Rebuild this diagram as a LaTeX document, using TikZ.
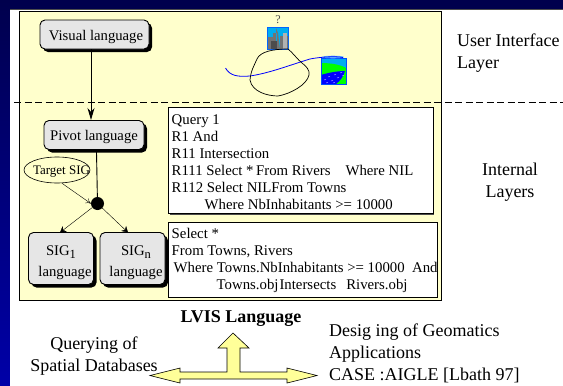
\documentclass[tikz,border=0pt]{standalone}
\usepackage{fontspec}
\setmainfont{Liberation Serif}
\usetikzlibrary{arrows.meta,shadows,shapes.geometric}
\definecolor{panelyellow}{HTML}{FFFFCC}
\definecolor{boxgrey}{HTML}{E6E6E6}
\definecolor{navytop}{HTML}{00004D}
\definecolor{navylow}{HTML}{0000A8}
\definecolor{arrowyellow}{HTML}{FFFF99}
\tikzset{
  langbox/.style={draw, line width=.9pt, fill=boxgrey, rounded corners=5pt, inner sep=0pt, drop shadow={shadow xshift=3pt, shadow yshift=-3pt, fill=black, opacity=1}},
  langtext/.style={align=center, inner sep=0pt, font=\fontsize{14.7}{21}\selectfont},
  querybox/.style={draw=black, fill=white, line width=1pt, inner sep=0pt},
  querytext/.style={anchor=north west, align=left, inner sep=0pt, font=\fontsize{14.8}{17}\selectfont},
  layertext/.style={align=left, inner sep=0pt, font=\fontsize{18}{22}\selectfont},
}
\newcommand{\sigsub}[1]{\raisebox{-3pt}{\fontsize{12.5}{14}\selectfont #1}}
\begin{document}
\begin{tikzpicture}[x=1pt, y=-1pt]
\useasboundingbox (0,0) rectangle (563,386);
% background
\fill[navytop] (0,0) rectangle (563,10);
\shade[top color=navytop, bottom color=navylow] (0,0) rectangle (10,386);
\fill[white] (10,10) rectangle (563,386);
\draw[black!70, very thin] (10,9.5) -- (563,9.5);
\fill[black!50] (20,12) rectangle (442,301);
\draw[black, fill=panelyellow, semithick] (19.5,11) rectangle (441,300);

% layers
\draw[dashed, dash pattern=on 7pt off 3.5pt, line width=.8pt] (14,102) -- (563,102);

% language nodes
\node[langbox, minimum width=109pt, minimum height=29pt] (visual) at (94.5,34.5) {};
\node[langtext] (visualtxt) at (96,36.5) {Visual language};
\node[langbox, minimum width=100pt, minimum height=29pt] (pivot) at (94,135) {};
\node[langtext] (pivottxt) at (94,137) {Pivot language};
\node[draw, semithick, ellipse, minimum width=66pt, minimum height=26pt, inner sep=0pt] (target) at (57,170) {};
\node[inner sep=0pt, font=\fontsize{13}{15}\selectfont] (targettxt) at (61.5,171.5) {Target SIG};
\node[circle, fill=black, inner sep=0pt, minimum size=13pt] (hub) at (97.5,203.5) {};
\node[langbox, minimum width=65pt, minimum height=52pt] (sigone) at (61,258.5) {};
\node[langbox, minimum width=65pt, minimum height=52pt] (sign) at (132.5,258.5) {};
\node[langtext] (sigonetxt) at (65,263) {\hspace*{-8pt}SIG\sigsub{1}\\language};
\node[langtext] (signtxt) at (136,263) {SIG\sigsub{n}\\language};

% connectors
\draw[-{Stealth[length=12pt,width=7pt]}, line width=1pt] (visual.south -| 91,0) -- (91,120);
\draw[line width=.9pt] (96.5,152) -- (hub);
\draw[-{To[length=5pt,width=6pt]}, thin] (target.south) ++(5,0) -- (hub.west);
\draw[-{Stealth[length=6pt,width=7pt]}] (hub) -- (60,232.5);
\draw[-{Stealth[length=6pt,width=7pt]}] (hub) -- (128,232.5);

% queries
\fill[black!70] (170,109) rectangle (434,214.5);
\draw[querybox] (168.5,107.5) rectangle (433,213);
\node[querytext] (queryone) at (171.5,114) {Query 1\\R1 And\\R11 Intersection\\R111 Select *\hspace{2.5pt}From Rivers\hspace{15pt}Where NIL\\R112 Select NILFrom Towns\\\hspace*{33pt}Where NbInhabitants >= 10000};
\draw[querybox] (168.5,222) rectangle (437.5,297);
\node[querytext] (querytwo) at (171.5,228.5) {Select *\\From Towns, Rivers\\\hspace*{2pt}Where Towns.NbInhabitants >= 10000~ And\\\hspace*{45pt}Towns.obj\hspace{1pt}Intersects\hspace{10pt}Rivers.obj};

% sketch
\node[font=\fontsize{12}{14}\selectfont, text=black!70, inner sep=0pt] (quest) at (278,19.5) {?};
\draw[draw=blue!60!cyan, fill=cyan] (267.5,27.5) rectangle (288.5,49);
\fill[black!55] (268,37) rectangle (273,49) (273,33) rectangle (277,49) (276,28) -- (278,33) -- (280,49) -- (276,49) -- cycle (280,36) rectangle (288,49);
\fill[black!70] (271,41) rectangle (277,49);
\fill[black!30] (283,33) rectangle (287,49);
\fill[cyan] (321,58) rectangle (346,84);
\fill[green] (321,63) .. controls (332,63) and (341,65) .. (346,68) -- (346,84) -- (321,84) -- cycle;
\fill[blue] (321,75) .. controls (327,73) and (337,71) .. (345,71) .. controls (344,76) and (340,81) .. (336,84) -- (321,84) -- cycle;
\foreach \px/\py in {324/80,328/77,331/81,334/75,337/78,340/73,342/76,326/83,333/83}
  \draw[white!70!blue, line width=.4pt] (\px,\py) -- ++(2,-.6);
\draw[blue!70!cyan] (321,58) rectangle (346,84);
\fill[blue!40!cyan!60!white] (333,57) ellipse (11pt and 1.3pt);
\draw[blue, line width=.8pt] (225.5,68) .. controls (230,76) and (238,77) .. (250,76) .. controls (270,73) and (290,65) .. (310,59) .. controls (320,57) and (335,56) .. (343,57.5);
\draw[line width=.7pt] (288,49) .. controls (294,54) and (298,60) .. (302,63) .. controls (306,66) and (310,70) .. (309,75) .. controls (307,85) and (290,94) .. (278,96) .. controls (268,96) and (252,92) .. (250,80) .. controls (251,70) and (254,66) .. (257,59) .. controls (260,52) and (272,49) .. (288,49);

% side labels
\node[layertext, anchor=north west] (uilayer) at (457,34) {User Interface\\Layer};
\node[layertext, align=center] (internal) at (510,182) {Internal\\Layers};
\node[font=\bfseries\fontsize{18}{20}\selectfont, inner sep=0pt] (lvis) at (241,319) {LVIS Language};
\node[layertext, align=center] (querying) at (94,356) {Querying of\\Spatial Databases};
\node[layertext, anchor=north west] (design) at (329,324) {Desig ing of Geomatics\\Applications\\CASE :AIGLE [Lbath 97]};

% arrow
\draw[fill=arrowyellow, semithick] (150,375.5) -- (180,368) -- (180,372) -- (227,372) -- (227,348) -- (218,348) -- (233,333) -- (249,348) -- (240,348) -- (240,372) -- (287,372) -- (287,368) -- (317,375.5) -- (287,383) -- (287,379) -- (180,379) -- (180,383) -- cycle;
\end{tikzpicture}
\end{document}
